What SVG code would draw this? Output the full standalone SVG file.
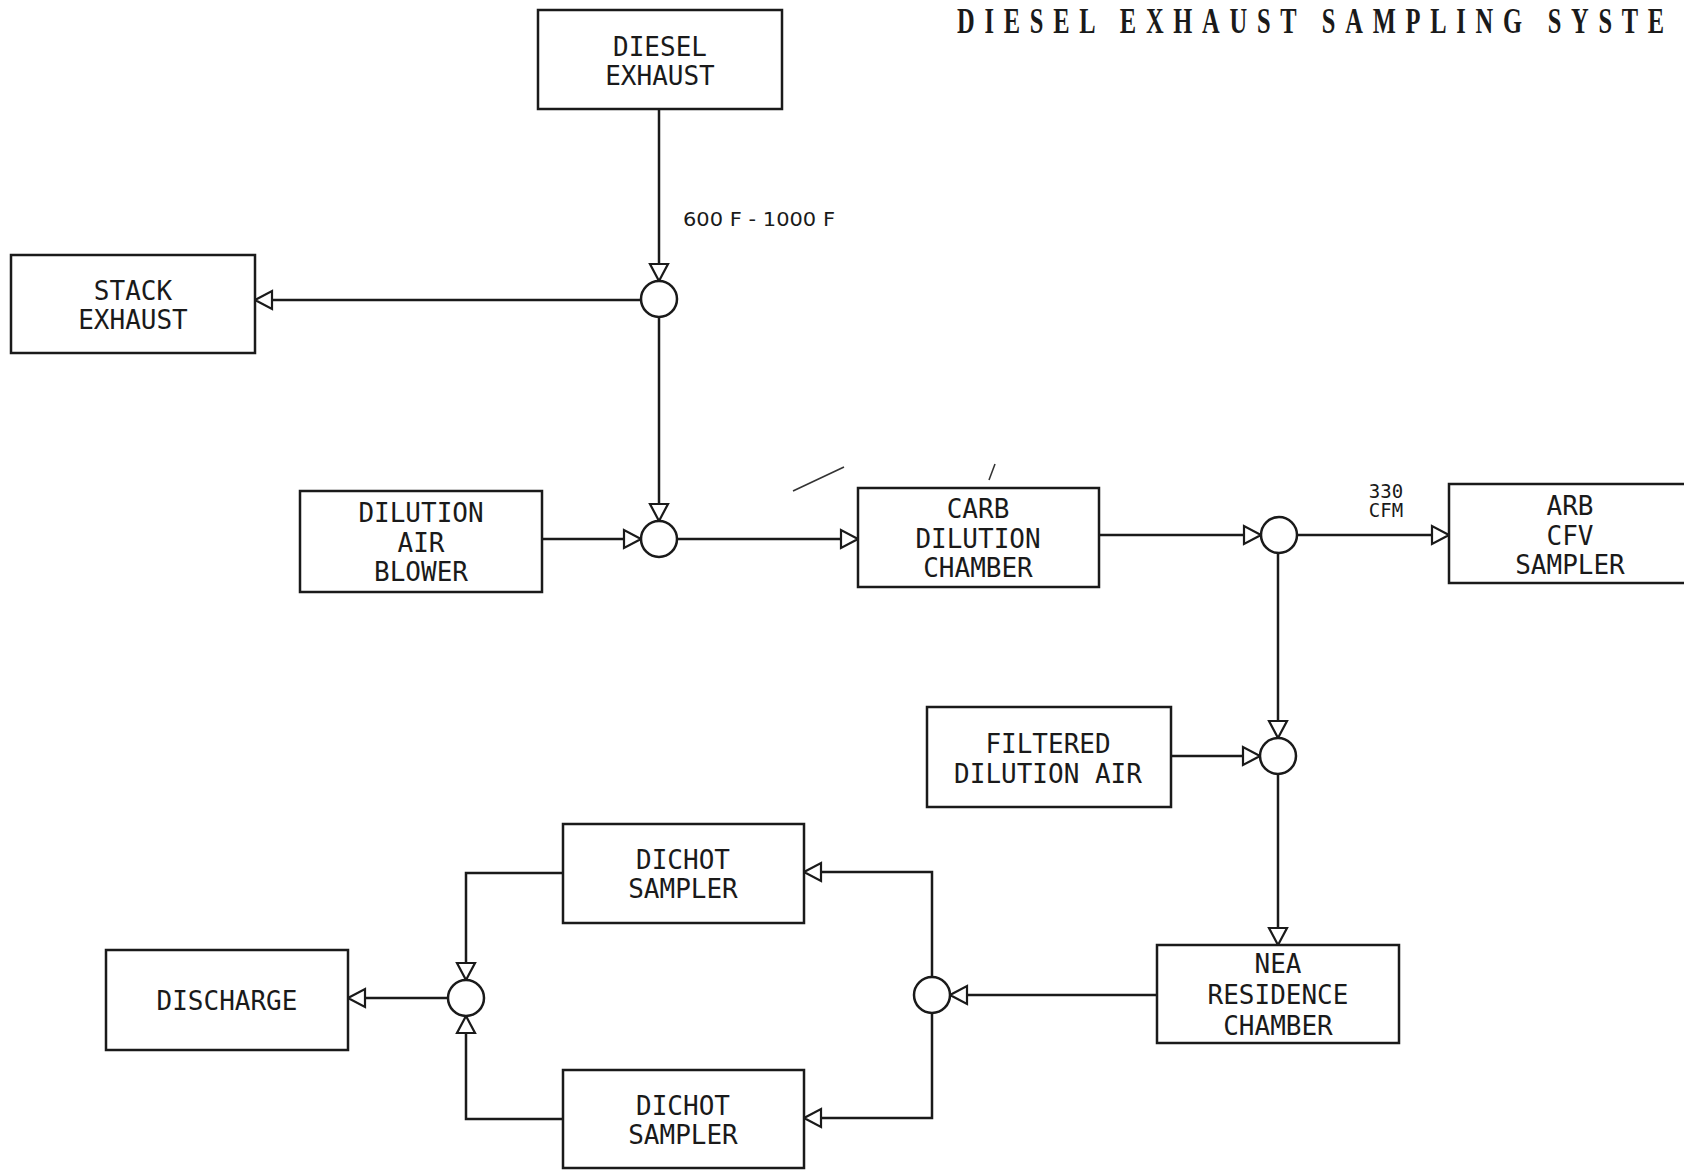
<svg xmlns="http://www.w3.org/2000/svg" width="1684" height="1171" viewBox="0 0 1684 1171">
<style>
  .bg { fill: #ffffff; }
  .box { fill: #ffffff; stroke: #1a1a1a; stroke-width: 2.5; }
  .jn { fill: #ffffff; stroke: #1a1a1a; stroke-width: 2.5; }
  .wire { fill: none; stroke: #1a1a1a; stroke-width: 2.5; }
  .stray { fill: none; stroke: #333333; stroke-width: 1.6; }
  .lbl { font-family: "DejaVu Sans Mono", "Liberation Mono", monospace; font-size: 26px; fill: #1a1a1a; text-anchor: middle; }
  .small { font-family: "DejaVu Sans", "Liberation Sans", sans-serif; font-size: 20px; fill: #1a1a1a; }
  .cfm { font-family: "DejaVu Sans Mono", "Liberation Mono", monospace; font-size: 19px; fill: #1a1a1a; text-anchor: middle; }
  .title { font-family: "Liberation Serif", "DejaVu Serif", serif; font-size: 36px; font-weight: bold; fill: #1a1a1a; }
</style>
<defs>
  <marker id="arr" markerUnits="userSpaceOnUse" viewBox="-20 -12 22 24" refX="0" refY="0" markerWidth="22" markerHeight="24" orient="auto">
    <path d="M0,0 L-17,-9 L-17,9 Z" fill="#ffffff" stroke="#1a1a1a" stroke-width="2.2" stroke-linejoin="miter"/>
  </marker>
</defs>
<rect class="bg" x="0" y="0" width="1684" height="1171"/>

<text id="title" class="title" transform="translate(957,33) scale(0.68,1)" textLength="1040" lengthAdjust="spacing">DIESEL EXHAUST SAMPLING SYSTE</text>

<g id="connectors">
  <path class="wire" d="M659,109 L659,281" marker-end="url(#arr)"/>
  <path class="wire" d="M641,300 L255,300" marker-end="url(#arr)"/>
  <path class="wire" d="M659,317 L659,521" marker-end="url(#arr)"/>
  <path class="wire" d="M542,539 L641,539" marker-end="url(#arr)"/>
  <path class="wire" d="M677,539 L858,539" marker-end="url(#arr)"/>
  <path class="wire" d="M1099,535 L1261,535" marker-end="url(#arr)"/>
  <path class="wire" d="M1297,535 L1449,535" marker-end="url(#arr)"/>
  <path class="wire" d="M1278,553 L1278,738" marker-end="url(#arr)"/>
  <path class="wire" d="M1171,756 L1260,756" marker-end="url(#arr)"/>
  <path class="wire" d="M1278,774 L1278,945" marker-end="url(#arr)"/>
  <path class="wire" d="M1157,995 L950,995" marker-end="url(#arr)"/>
  <path class="wire" d="M932,977 L932,872 L804,872" marker-end="url(#arr)"/>
  <path class="wire" d="M932,1013 L932,1118 L804,1118" marker-end="url(#arr)"/>
  <path class="wire" d="M563,873 L466,873 L466,980" marker-end="url(#arr)"/>
  <path class="wire" d="M563,1119 L466,1119 L466,1016" marker-end="url(#arr)"/>
  <path class="wire" d="M448,998 L348,998" marker-end="url(#arr)"/>
  <text class="small" x="683" y="226" textLength="152" lengthAdjust="spacingAndGlyphs">600 F - 1000 F</text>
  <text class="cfm" x="1386" y="498">330</text>
  <text class="cfm" x="1386" y="517">CFM</text>
</g>

<g id="marks">
  <path class="stray" d="M793,491 L844,467"/>
  <path class="stray" d="M989,480 L995,464"/>
</g>

<g id="diesel-exhaust">
  <rect class="box" x="538" y="10" width="244" height="99"/>
  <text class="lbl" x="660" y="56">DIESEL</text>
  <text class="lbl" x="660" y="85">EXHAUST</text>
</g>

<g id="stack-exhaust">
  <rect class="box" x="11" y="255" width="244" height="98"/>
  <text class="lbl" x="133" y="300">STACK</text>
  <text class="lbl" x="133" y="329">EXHAUST</text>
</g>

<g id="dilution-air-blower">
  <rect class="box" x="300" y="491" width="242" height="101"/>
  <text class="lbl" x="421" y="522">DILUTION</text>
  <text class="lbl" x="421" y="552">AIR</text>
  <text class="lbl" x="421" y="581">BLOWER</text>
</g>

<g id="carb-dilution-chamber">
  <rect class="box" x="858" y="488" width="241" height="99"/>
  <text class="lbl" x="978" y="518">CARB</text>
  <text class="lbl" x="978" y="548">DILUTION</text>
  <text class="lbl" x="978" y="577">CHAMBER</text>
</g>

<g id="arb-cfv-sampler">
  <rect class="box" x="1449" y="484" width="260" height="99"/>
  <text class="lbl" x="1570" y="515">ARB</text>
  <text class="lbl" x="1570" y="545">CFV</text>
  <text class="lbl" x="1570" y="574">SAMPLER</text>
</g>

<g id="filtered-dilution-air">
  <rect class="box" x="927" y="707" width="244" height="100"/>
  <text class="lbl" x="1048" y="753">FILTERED</text>
  <text class="lbl" x="1048" y="783">DILUTION AIR</text>
</g>

<g id="nea-residence-chamber">
  <rect class="box" x="1157" y="945" width="242" height="98"/>
  <text class="lbl" x="1278" y="973">NEA</text>
  <text class="lbl" x="1278" y="1004">RESIDENCE</text>
  <text class="lbl" x="1278" y="1035">CHAMBER</text>
</g>

<g id="dichot-sampler-1">
  <rect class="box" x="563" y="824" width="241" height="99"/>
  <text class="lbl" x="683" y="869">DICHOT</text>
  <text class="lbl" x="683" y="898">SAMPLER</text>
</g>

<g id="dichot-sampler-2">
  <rect class="box" x="563" y="1070" width="241" height="98"/>
  <text class="lbl" x="683" y="1115">DICHOT</text>
  <text class="lbl" x="683" y="1144">SAMPLER</text>
</g>

<g id="discharge">
  <rect class="box" x="106" y="950" width="242" height="100"/>
  <text class="lbl" x="227" y="1010">DISCHARGE</text>
</g>

<g id="junction-1"><circle class="jn" cx="659" cy="299" r="18"/></g>
<g id="junction-2"><circle class="jn" cx="659" cy="539" r="18"/></g>
<g id="junction-3"><circle class="jn" cx="1279" cy="535" r="18"/></g>
<g id="junction-4"><circle class="jn" cx="1278" cy="756" r="18"/></g>
<g id="junction-5"><circle class="jn" cx="932" cy="995" r="18"/></g>
<g id="junction-6"><circle class="jn" cx="466" cy="998" r="18"/></g>
</svg>
